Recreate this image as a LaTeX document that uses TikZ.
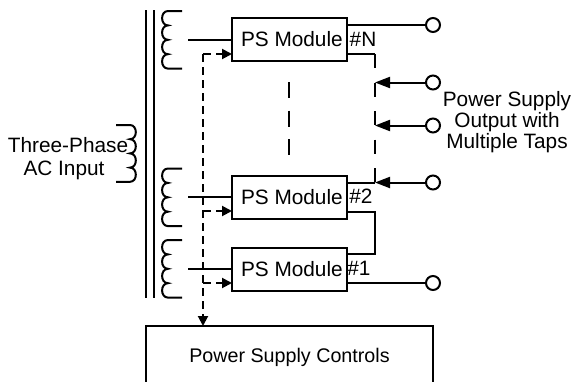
\documentclass[tikz,border=0pt]{standalone}
\usepackage{fontspec}
\setmainfont{Liberation Sans}
\usetikzlibrary{arrows.meta}

\begin{document}
\begin{tikzpicture}
[x=1pt,y=-1pt,line width=2pt,
  ctrlArrow/.style={-{Triangle[length=10pt,width=10pt]},dash pattern=on 7.5pt off 5.5pt},%
  tapArrow/.style={-{Triangle[length=15pt,width=11pt]}},%
  moduleBox/.style={shape=rectangle,draw,outer sep=0pt,minimum height=43pt,inner xsep=9pt,text width=97pt,align=flush left},%
  controlBox/.style={shape=rectangle,draw,outer sep=0pt,minimum width=287pt,minimum height=62pt,font=\fontsize{19.7}{21}\selectfont},%
  outPin/.style={shape=circle,draw,outer sep=0pt,inner sep=0pt,minimum size=14pt},%
  labelText/.style={inner sep=0pt,align=center},%
  font=\fontsize{20.8}{21}\selectfont,
  secCoil/.pic={
    \draw (14,0) -- (0,0)
    \foreach \bump in {1,2,3,4}{
      to[out=180,in=180,looseness=1.4] ++(0,14.4)
    }
    -- ++(14,0);
  },
  priCoil/.pic={
    \draw (-14,0) -- (0,0)
    \foreach \bump in {1,2,3,4}{
      to[out=0,in=0,looseness=1.4] ++(0,14.2)
    }
    -- ++(-14,0);
  }]
\useasboundingbox (0,0) rectangle (574,381);
%% core and windings
\draw (146,10) -- (146,298);
\draw (153.5,10) -- (153.5,298);
\pic at (130,125) {priCoil};
\foreach \coilname/\y in {N/11, 2/168.5, 1/240}
{
  \pic at (168,\y) {secCoil};
}
%% modules
\foreach \nodename/\y in {N/39.5, 2/197, 1/269}
{
  \node (mod\nodename) at (289.5,\y) [moduleBox] {\mbox{PS Module}};
  \coordinate (tap\nodename) at (188,\y);
  \draw (tap\nodename) -- (mod\nodename);
}
\node (numN) at (363,39.5) [labelText] {\#N};
\node (num2) at (361,196) [labelText] {\#2};
\node (num1) at (359,268) [labelText] {\#1};
\node (ctrl) at (289.5,357) [controlBox] {Power Supply Controls};
%% control lines
\coordinate (busN) at (203,54);
\coordinate (bus2) at (203,211);
\coordinate (bus1) at (203,283);
\draw[ctrlArrow] (busN) -- (bus1 |- ctrl.north);
\foreach \nodename in {N,2,1}
{
  \draw[ctrlArrow] (bus\nodename) -- (bus\nodename -| mod\nodename.west);
}
%% output pins
\foreach \nodename/\y in {a/25, b/82.5, c/125.5, d/182.5, e/283}
{
  \node (out\nodename) at (433,\y) [outPin] {};
  \coordinate (rail\nodename) at (375,\y);
}
\draw (outa) -- (outa -| modN.east);
\draw (oute) -- (oute -| mod1.east);
\foreach \nodename in {b,c,d}
{
  \draw[tapArrow] (out\nodename) -- (rail\nodename);
}
\draw (modN.east |- 0,54) -- (375,54) coordinate (railTop);
\draw[dash pattern=on 14pt off 14.5pt] (railTop) -- (raild);
\draw (raild) -- (raild -| mod2.east);
\draw (mod2.east |- 0,212) -- (375,212) -- (375,254) -- (mod1.east |- 0,254);
%% break between modules
\coordinate (gapTop) at (289,82);
\coordinate (gapEnd) at (289,155);
\draw[dash pattern=on 16pt off 12.5pt] (gapTop) -- (gapEnd);
%% labels
\node (tapLabel) at (507,122) [labelText] {Power Supply\\Output with\\Multiple Taps};
\node (acLabelTop) at (68,145) [labelText] {Three-Phase};
\node (acLabelEnd) at (64,170) [labelText] {AC Input};
\end{tikzpicture}
\end{document}
